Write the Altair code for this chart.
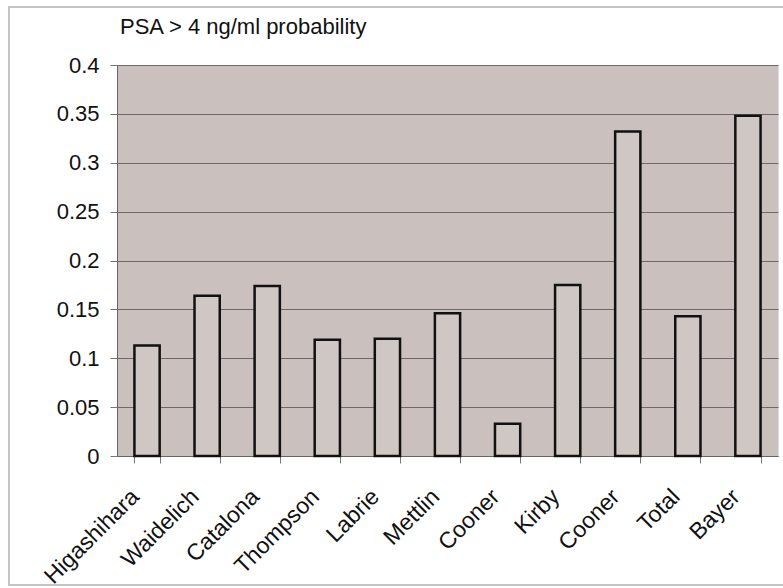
import altair as alt
import pandas as pd

names = ["Higashihara", "Waidelich", "Catalona", "Thompson", "Labrie", "Mettlin",
         "Cooner", "Kirby", "Cooner", "Total", "Bayer"]
values = [0.113, 0.164, 0.174, 0.119, 0.120, 0.146, 0.033, 0.175, 0.332, 0.143, 0.348]
y_ticks = [0, 0.05, 0.1, 0.15, 0.2, 0.25, 0.3, 0.35, 0.4]
title_text = "PSA > 4 ng/ml probability"

df = pd.DataFrame({"idx": list(range(len(names))), "name": names, "value": values})

label_expr = "[" + ",".join("'%s'" % n for n in names) + "][datum.value]"
FONT = "Liberation Sans"

bars = alt.Chart(df).mark_bar(
    fill="#cfc7c4", stroke="#111111", strokeWidth=2.5
).encode(
    x=alt.X("idx:O", title=None,
            scale=alt.Scale(paddingInner=0.58, paddingOuter=0.29),
            axis=alt.Axis(labelExpr=label_expr, labelAngle=-45, labelAlign="right",
                          labelBaseline="top", labelFontSize=23, labelColor="#111",
                          labelFont=FONT, tickBand="extent", labelOffset=-20,
                          tickColor="#777", tickSize=7, domainColor="#666",
                          labelPadding=22, grid=False)),
    y=alt.Y("value:Q", title=None,
            scale=alt.Scale(domain=[0, 0.4]),
            axis=alt.Axis(values=y_ticks, format="~g", labelFontSize=22,
                          labelColor="#111", labelFont=FONT,
                          gridColor="#6e6868", gridWidth=1, tickColor="#777",
                          tickSize=7, domainColor="#666", labelPadding=11)),
)

frame = alt.Chart(df).mark_rect(fill=None, stroke="#c4c4c4", strokeWidth=1.2).encode(
    x=alt.value(-108), x2=alt.value(680), y=alt.value(-58), y2=alt.value(520)
)

title = alt.Chart(pd.DataFrame({"t": [title_text]})).mark_text(
    align="left", baseline="alphabetic", fontSize=22, font=FONT, color="#111"
).encode(x=alt.value(3), y=alt.value(-31), text="t:N")

chart = alt.layer(frame, bars, title).properties(
    width=661, height=391,
    padding={"left": 117, "top": 65, "right": 5, "bottom": 132},
    autosize=alt.AutoSizeParams(type="none"),
    background="white",
).configure_view(fill="#cac1bf", stroke="#e0dcdc")

chart.save("out.html", embed_options={"renderer": "svg", "actions": False})
